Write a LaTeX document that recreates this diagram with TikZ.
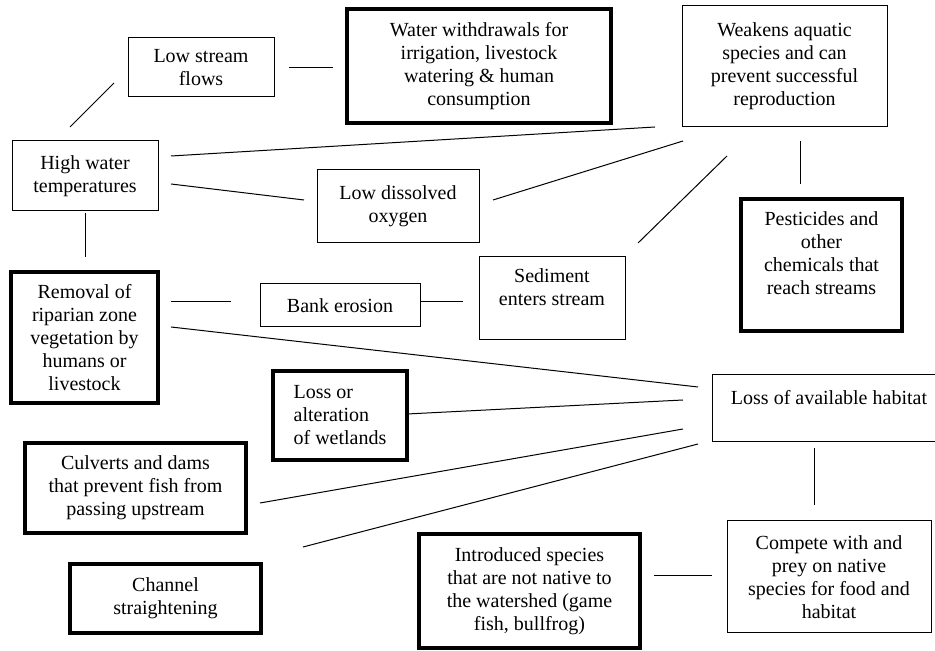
\documentclass[tikz,border=0pt]{standalone}
\usepackage{fontspec}
\setmainfont{Liberation Serif}
\usepackage{tikz}
\usetikzlibrary{positioning}
\tikzset{wh/.style 2 args={minimum width=#1*0.6pt, minimum height=#2*0.6pt}}

\begin{document}
\begin{tikzpicture}[x=0.6pt,y=-0.6pt]
\tikzstyle{thinbox}=[rectangle, draw=black, line width=0.6pt, align=center, inner sep=0pt, font=\fontsize{12}{13.8}\selectfont]
\tikzstyle{thickbox}=[thinbox, line width=2pt]
\tikzstyle{connect}=[line width=0.6pt]
\useasboundingbox (0,0) rectangle (935,651);
	\node[thinbox, wh={146}{59}] (n_flows) at (201,67.5) {Low stream\\flows};
	\node[thickbox, wh={264}{114}] (n_withdraw) at (479,66) {Water withdrawals for\\irrigation, livestock\\watering \& human\\consumption};
	\node[thinbox, wh={205}{121}] (n_weakens) at (784.5,66.5) {Weakens aquatic\\species and can\\prevent successful\\reproduction};
	\node[thinbox, wh={146}{70}] (n_hightemp) at (85,176) {High water\\temperatures};
	\node[thinbox, wh={162}{73}] (n_lowdo) at (398,206.5) {Low dissolved\\oxygen};
	\node[thickbox, wh={147}{131}] (n_removal) at (84.5,337.5) {Removal of\\riparian zone\\vegetation by\\humans or\\livestock};
	\node[thinbox, wh={160}{43}] (n_erosion) at (340,305.5) {Bank erosion};
	\node[thinbox, wh={146}{83}] (n_sediment) at (552,298.5) {Sediment\\enters stream\\\mbox{}};
	\node[thickbox, wh={161}{132}] (n_pesticides) at (821.5,265) {Pesticides and\\other\\chemicals that\\reach streams\\\mbox{}};
	\node[thickbox, wh={134}{89}, align=left] (n_wetlands) at (340,415.5) {Loss or\\alteration\\of wetlands};
	\node[thickbox, wh={221}{90}] (n_culverts) at (135.5,488) {Culverts and dams\\that prevent fish from\\passing upstream};
	\node[thickbox, wh={191}{69}] (n_channel) at (165.5,598.5) {Channel\\straightening};
	\node[thickbox, wh={221}{114}] (n_introduced) at (529.5,591) {Introduced species\\that are not native to\\the watershed (game\\fish, bullfrog)};
	\node[thinbox, wh={234}{67}] (n_habitat) at (829,408.5) {Loss of available habitat\\\mbox{}};
	\node[thinbox, wh={204}{112}] (n_compete) at (829,577) {Compete with and\\prey on native\\species for food and\\habitat};

	% loose line ends
	\coordinate (e_1a) at (70,127);   \coordinate (e_1b) at (114,83);
	\coordinate (e_2a) at (289,68);   \coordinate (e_2b) at (333,68);
	\coordinate (e_3a) at (171,156);  \coordinate (e_3b) at (655,127);
	\coordinate (e_4a) at (171,184);  \coordinate (e_4b) at (304,200);
	\coordinate (e_5a) at (493,200);  \coordinate (e_5b) at (683,141);
	\coordinate (e_6a) at (638,243);  \coordinate (e_6b) at (727,156);
	\coordinate (e_7a) at (800,141);  \coordinate (e_7b) at (800,184);
	\coordinate (e_8a) at (85,213);   \coordinate (e_8b) at (85,257);
	\coordinate (e_9a) at (171,302);  \coordinate (e_9b) at (231,302);
	\coordinate (e_10a) at (421,302); \coordinate (e_10b) at (463,302);
	\coordinate (e_11a) at (171,327); \coordinate (e_11b) at (698,387);
	\coordinate (e_12a) at (407,414); \coordinate (e_12b) at (683,400);
	\coordinate (e_13a) at (260,503); \coordinate (e_13b) at (683,429);
	\coordinate (e_14a) at (303,547); \coordinate (e_14b) at (698,444);
	\coordinate (e_15a) at (814,448); \coordinate (e_15b) at (814,505);
	\coordinate (e_16a) at (654,576); \coordinate (e_16b) at (712,576);

	\path[connect]
		(e_1a) edge [] (e_1b)
		(e_2a) edge [] (e_2b)
		(e_3a) edge [] (e_3b)
		(e_4a) edge [] (e_4b)
		(e_5a) edge [] (e_5b)
		(e_6a) edge [] (e_6b)
		(e_7a) edge [] (e_7b)
		(e_8a) edge [] (e_8b)
		(e_9a) edge [] (e_9b)
		(e_10a) edge [] (e_10b)
		(e_11a) edge [] (e_11b)
		(e_12a) edge [] (e_12b)
		(e_13a) edge [] (e_13b)
		(e_14a) edge [] (e_14b)
		(e_15a) edge [] (e_15b)
		(e_16a) edge [] (e_16b);
\end{tikzpicture}
\end{document}
